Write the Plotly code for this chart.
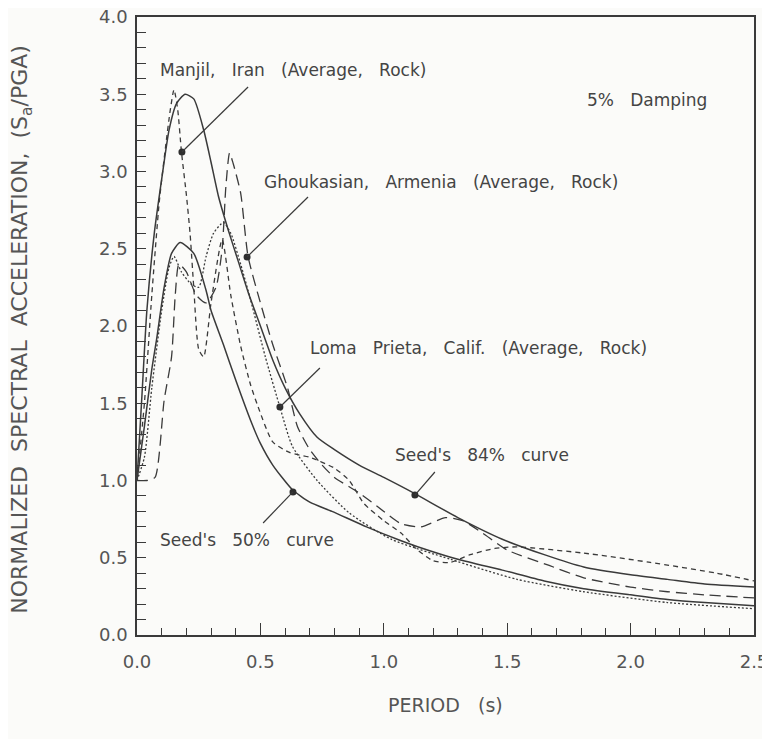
import plotly.graph_objects as go

# ---- data ----
seed84_T = [0, 0.02, 0.04, 0.07, 0.10, 0.13, 0.16, 0.195, 0.23, 0.27, 0.30, 0.33, 0.37, 0.41, 0.45,
            0.50, 0.55, 0.60, 0.66, 0.73, 0.80, 0.90, 1.00, 1.12, 1.30, 1.48, 1.65, 1.81, 2.00, 2.15, 2.30, 2.50]
seed84_S = [1.0, 1.55, 2.1, 2.6, 2.95, 3.27, 3.44, 3.50, 3.47, 3.27, 3.06, 2.84, 2.62, 2.42, 2.22,
            2.0, 1.78, 1.6, 1.43, 1.28, 1.20, 1.10, 1.02, 0.92, 0.76, 0.62, 0.52, 0.44, 0.39, 0.36, 0.33, 0.31]

seed50_T = [0, 0.03, 0.06, 0.08, 0.11, 0.14, 0.175, 0.23, 0.28, 0.30, 0.35, 0.40, 0.46, 0.50, 0.55,
            0.63, 0.70, 0.79, 0.93, 1.07, 1.14, 1.30, 1.48, 1.65, 1.81, 2.0, 2.15, 2.30, 2.50]
seed50_S = [1.0, 1.35, 1.72, 1.92, 2.25, 2.47, 2.54, 2.47, 2.23, 2.10, 1.88, 1.65, 1.39, 1.24, 1.10,
            0.94, 0.86, 0.80, 0.70, 0.61, 0.57, 0.49, 0.42, 0.35, 0.30, 0.26, 0.23, 0.21, 0.19]

manjil_T = [0, 0.03, 0.06, 0.09, 0.115, 0.135, 0.15, 0.165, 0.18, 0.20, 0.215, 0.23, 0.25, 0.27, 0.30,
            0.345, 0.38, 0.42, 0.46, 0.49, 0.55, 0.62, 0.70, 0.80, 0.86, 0.92, 1.00, 1.07, 1.13, 1.20,
            1.27, 1.35, 1.45, 1.54, 1.81, 2.08, 2.35, 2.50]
manjil_S = [1.0, 1.5, 2.2, 2.8, 3.15, 3.4, 3.53, 3.4, 3.13, 2.85, 2.6, 2.25, 1.85, 1.8, 2.15,
            2.56, 2.2, 1.87, 1.62, 1.48, 1.25, 1.18, 1.15, 1.08, 1.0, 0.85, 0.74, 0.66, 0.56, 0.48,
            0.47, 0.52, 0.56, 0.57, 0.53, 0.47, 0.40, 0.35]

ghouk_T = [0, 0.04, 0.073, 0.11, 0.14, 0.155, 0.17, 0.20, 0.24, 0.28, 0.32, 0.345, 0.36, 0.375, 0.39,
           0.42, 0.45, 0.50, 0.55, 0.61, 0.65, 0.70, 0.75, 0.80, 0.90, 1.00, 1.07, 1.15, 1.25, 1.32,
           1.40, 1.50, 1.67, 1.81, 2.00, 2.15, 2.30, 2.50]
ghouk_S = [1.0, 1.0, 1.02, 1.52, 1.8, 2.2, 2.4, 2.35, 2.2, 2.15, 2.25, 2.5, 2.9, 3.12, 3.05,
           2.86, 2.45, 2.15, 1.88, 1.6, 1.35, 1.2, 1.1, 1.02, 0.92, 0.80, 0.72, 0.70, 0.76, 0.74,
           0.66, 0.55, 0.45, 0.37, 0.31, 0.28, 0.26, 0.24]

loma_T = [0, 0.03, 0.06, 0.10, 0.13, 0.15, 0.18, 0.22, 0.25, 0.28, 0.31, 0.35, 0.38, 0.42, 0.46,
          0.52, 0.58, 0.63, 0.73, 0.86, 1.03, 1.27, 1.54, 1.81, 2.15, 2.50]
loma_S = [1.0, 1.15, 1.6, 2.1, 2.38, 2.45, 2.35, 2.27, 2.25, 2.45, 2.6, 2.67, 2.6, 2.4, 2.17,
          1.8, 1.47, 1.22, 1.0, 0.79, 0.62, 0.49, 0.36, 0.28, 0.21, 0.17]

SP = "\u00a0\u00a0 "
SP2 = "\u00a0 "
# label texts, pointer dots (on curves) and pointer tails
labels = ["Manjil," + SP + "Iran" + SP + "(Average," + SP + "Rock)",
          "Ghoukasian," + SP + "Armenia" + SP + "(Average," + SP + "Rock)",
          "Loma" + SP + "Prieta," + SP + "Calif." + SP + "(Average," + SP + "Rock)",
          "Seed's" + SP + "84%" + SP + "curve",
          "Seed's" + SP + "50%" + SP + "curve"]
label_x = [0.085, 0.506, 0.693, 1.037, 0.085]
label_y = [3.66, 2.93, 1.86, 1.165, 0.615]
dot_x = [0.182, 0.446, 0.579, 1.126, 0.632]
dot_y = [3.126, 2.447, 1.476, 0.906, 0.926]
tail_x = [0.450, 0.693, 0.741, 1.207, 0.511]
tail_y = [3.547, 2.835, 1.728, 1.055, 0.725]

x_ticks = [0, 0.5, 1.0, 1.5, 2.0, 2.5]
x_ticktext = ["0.0", "0.5", "1.0", "1.5", "2.0", "2.5"]
y_ticks = [0, 0.5, 1.0, 1.5, 2.0, 2.5, 3.0, 3.5, 4.0]
y_ticktext = ["0.0", "0.5", "1.0", "1.5", "2.0", "2.5", "3.0", "3.5", "4.0"]

INK = "#3a3a3a"
TXT = "#444444"
FONT = "DejaVu Sans"

fig = go.Figure()

def add_curve(T, S, dash, width=1.4):
    fig.add_trace(go.Scatter(x=T, y=S, mode="lines",
                             line=dict(color=INK, width=width, dash=dash, shape="spline", smoothing=0.6),
                             showlegend=False, hoverinfo="skip"))

add_curve(seed84_T, seed84_S, "solid", 1.5)
add_curve(seed50_T, seed50_S, "solid", 1.5)
add_curve(manjil_T, manjil_S, "5px,4px", 1.3)
add_curve(ghouk_T, ghouk_S, "11px,6px", 1.3)
add_curve(loma_T, loma_S, "2px,2px", 1.3)

# pointer lines
for x0, y0, x1, y1 in zip(tail_x, tail_y, dot_x, dot_y):
    fig.add_shape(type="line", x0=x0, y0=y0, x1=x1, y1=y1, xref="x", yref="y",
                  line=dict(color=INK, width=1.2))

fig.add_trace(go.Scatter(x=dot_x, y=dot_y, mode="markers",
                         marker=dict(color="#2e2e2e", size=7), showlegend=False, hoverinfo="skip"))

for t, x, y in zip(labels, label_x, label_y):
    fig.add_annotation(x=x, y=y, text=t, showarrow=False, xanchor="left", yanchor="middle",
                       font=dict(family=FONT, size=17, color=TXT))

fig.add_annotation(x=1.815, y=3.46, text="5%" + SP + "Damping", showarrow=False, xanchor="left",
                   yanchor="middle", font=dict(family=FONT, size=17, color=TXT))

# axis titles
fig.add_annotation(xref="paper", yref="paper", x=0.5, y=0, yshift=-70, text="PERIOD" + SP + "(s)",
                   showarrow=False, xanchor="center", yanchor="middle",
                   font=dict(family=FONT, size=19, color="#555555"))
fig.add_annotation(xref="paper", yref="paper", x=0, xshift=-115, y=0.494,
                   text="NORMALIZED" + SP2 + "SPECTRAL" + SP2 + "ACCELERATION," + SP2 + "(S<sub>a</sub>/PGA)",
                   textangle=-90, showarrow=False, xanchor="center", yanchor="middle",
                   font=dict(family=FONT, size=22, color="#555555"))

axis_common = dict(showgrid=False, zeroline=False, showline=True, mirror=True,
                   linecolor=INK, linewidth=1.5, ticks="inside", tickcolor=INK,
                   ticklabeloverflow="allow",
                   tickfont=dict(family=FONT, size=18, color="#555555"))

fig.update_xaxes(range=[0, 2.5], tickmode="array", tickvals=x_ticks, ticktext=x_ticktext,
                 ticklen=12, tickwidth=1.2, ticklabelstandoff=10,
                 minor=dict(dtick=0.1, ticks="inside", ticklen=7, tickcolor=INK, tickwidth=1.2),
                 **axis_common)
fig.update_yaxes(range=[0, 4.0], tickmode="array", tickvals=y_ticks, ticktext=y_ticktext,
                 ticklen=9, tickwidth=1.2, ticklabelstandoff=4,
                 minor=dict(dtick=0.1, ticks="inside", ticklen=9, tickcolor=INK, tickwidth=1.2),
                 **axis_common)

# the page body has an 8px margin, so the figure is sized and offset to compensate
fig.update_layout(width=762, height=731, margin=dict(l=129, r=16, t=9, b=104, autoexpand=False),
                  paper_bgcolor="#fbfbf9", plot_bgcolor="#fbfbf9")

fig.write_html("out.html")
